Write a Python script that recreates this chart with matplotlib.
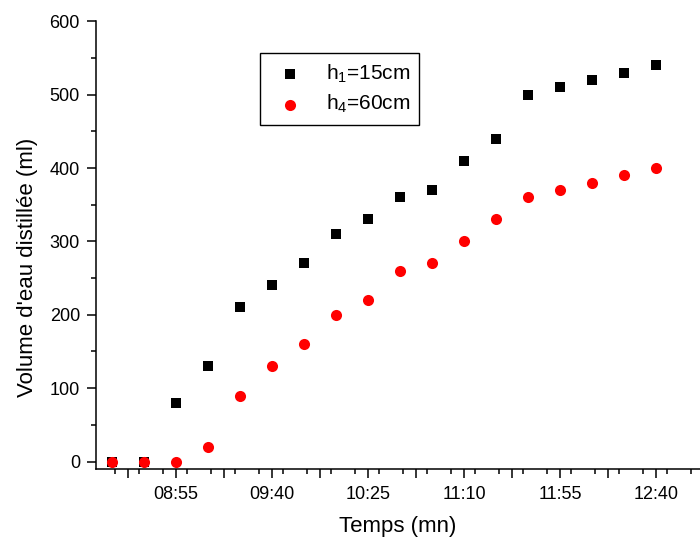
import matplotlib
matplotlib.use('Agg')
import matplotlib.pyplot as plt
from matplotlib.ticker import FixedLocator, MultipleLocator

# Data
times = ['08:25', '08:40', '08:55', '09:10', '09:25', '09:40', '09:55', '10:10', '10:25',
         '10:40', '10:55', '11:10', '11:25', '11:40', '11:55', '12:10', '12:25', '12:40']
vol_h1 = [0, 0, 80, 130, 210, 240, 270, 310, 330, 360, 370, 410, 440, 500, 510, 520, 530, 540]
vol_h4 = [0, 0, 0, 20, 90, 130, 160, 200, 220, 260, 270, 300, 330, 360, 370, 380, 390, 400]

label_h1 = 'h$_1$=15cm'
label_h4 = 'h$_4$=60cm'

# major ticks every 22.5 min, labels on every other one
major_ticks = ['08:32.5', '08:55', '09:17.5', '09:40', '10:02.5', '10:25', '10:47.5',
               '11:10', '11:32.5', '11:55', '12:17.5', '12:40']


def to_min(t):
    h, m = t.split(':')
    return int(h) * 60 + float(m)


plt.rcParams['font.family'] = ['Liberation Sans', 'DejaVu Sans']
plt.rcParams['mathtext.default'] = 'regular'

x = [to_min(t) for t in times]
major_pos = [to_min(t) for t in major_ticks]
major_lbl = [t if t.count('.') == 0 else '' for t in major_ticks]

fig = plt.figure(figsize=(7.0, 5.44), dpi=100)
ax = fig.add_axes([0.137, 0.138, 0.863, 0.823])

ax.scatter(x, vol_h1, marker='s', s=6.5 ** 2, color='black', label=label_h1, zorder=3, linewidths=0)
ax.scatter(x, vol_h4, marker='o', s=8 ** 2, color='#ff0000', label=label_h4, zorder=4, linewidths=0)

ax.set_xlim(497.5, 780.6)
ax.set_ylim(-10, 600)

ax.xaxis.set_major_locator(FixedLocator(major_pos))
ax.set_xticklabels(major_lbl)
ax.xaxis.set_minor_locator(MultipleLocator(11.25))
ax.yaxis.set_major_locator(MultipleLocator(100))
ax.yaxis.set_minor_locator(MultipleLocator(50))

for side in ['top', 'right']:
    ax.spines[side].set_visible(False)
for side in ['left', 'bottom']:
    ax.spines[side].set_linewidth(1.1)

ax.tick_params(which='major', direction='out', length=6.5, width=1.1, labelsize=13)
ax.tick_params(which='minor', direction='out', length=3.6, width=1.1)
ax.tick_params(axis='x', which='major', pad=6)
ax.tick_params(axis='y', which='major', pad=5)

ax.set_xlabel('Temps (mn)', fontsize=16)
ax.set_ylabel("Volume d'eau distillée (ml)", fontsize=16)
ax.xaxis.set_label_coords(0.5, -0.105)
ax.yaxis.set_label_coords(-0.096, 0.45)

leg = ax.legend(loc='upper left', bbox_to_anchor=(0.2715, 0.9286), borderaxespad=0,
                fontsize=15, fancybox=False, edgecolor='black', framealpha=1,
                handletextpad=0.7, borderpad=0.45, labelspacing=0.4, scatterpoints=1,
                handlelength=2.0)
leg.get_frame().set_linewidth(1.0)

fig.savefig('out.png', dpi=100)
